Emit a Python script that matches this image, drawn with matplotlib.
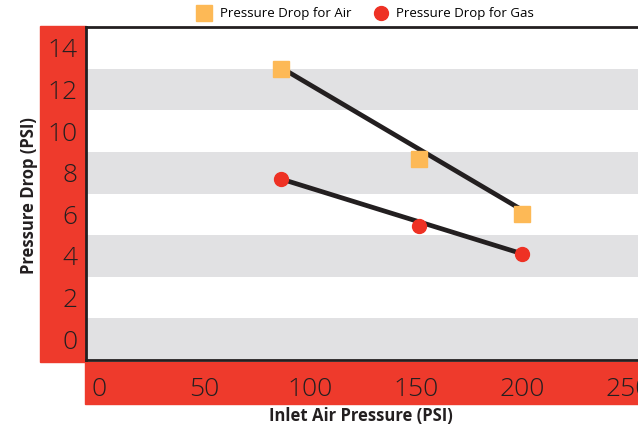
import numpy as np
import matplotlib.pyplot as plt
from matplotlib.patches import Rectangle

plt.rcParams['font.family'] = ['Open Sans', 'DejaVu Sans']

# data
inlet_pressure = [86, 151, 200]
drop_air = [13.0, 8.65, 6.0]
drop_gas = [7.7, 5.45, 4.1]

# straight trend lines (end points)
trend_x = [86, 200]
trend_air = [13.05, 6.2]
trend_gas = [7.7, 4.1]

x_ticks = [0, 50, 100, 150, 200, 250]
y_ticks = [0, 2, 4, 6, 8, 10, 12, 14]

W, H = 638, 428
fig = plt.figure(figsize=(W / 100, H / 100), dpi=100)

# red tick-label strips
red = '#ee3a2c'
fig.add_artist(Rectangle((40 / W, (H - 362) / H), 46 / W, 336 / H,
                         transform=fig.transFigure, color=red, zorder=0))
fig.add_artist(Rectangle((85 / W, (H - 404) / H), 560 / W, 42 / H,
                         transform=fig.transFigure, color=red, zorder=0))

ax = fig.add_axes([86 / W, (H - 360) / H, 572 / W, 333 / H])
ax.set_xlim(-6, 264)
ax.set_ylim(-1, 15)

# alternating grey bands
for lo in [-1, 3, 7, 11]:
    ax.axhspan(lo, lo + 2, color='#e1e1e3', lw=0, zorder=0)

ax.plot(trend_x, trend_air, color='#231f20', lw=3.4, solid_capstyle='butt', zorder=2)
ax.plot(trend_x, trend_gas, color='#231f20', lw=3.4, solid_capstyle='butt', zorder=2)
air, = ax.plot(inlet_pressure, drop_air, ls='none', marker='s', ms=12.2,
               color='#fdb956', label='Pressure Drop for Air', zorder=3)
gas, = ax.plot(inlet_pressure, drop_gas, ls='none', marker='o', ms=10,
               color='#ee3124', label='Pressure Drop for Gas', zorder=3)

ax.set_xticks(x_ticks)
ax.set_yticks(y_ticks)
ax.tick_params(length=0, labelsize=19, labelcolor='#231f20')
ax.tick_params(axis='y', pad=6)
ax.tick_params(axis='x', pad=12)
for lab in ax.get_xticklabels() + ax.get_yticklabels():
    lab.set_fontweight('light')

for s in ['top', 'left', 'bottom']:
    ax.spines[s].set_linewidth(2)
    ax.spines[s].set_color('#231f20')
ax.spines['right'].set_visible(False)

fig.text(29 / W, 1 - 196 / H, 'Pressure Drop (PSI)', rotation=90, ha='center', va='center',
         fontsize=12, fontweight='bold', color='#231f20')
fig.text(361 / W, 1 - 416 / H, 'Inlet Air Pressure (PSI)', ha='center', va='center',
         fontsize=12, fontweight='bold', color='#231f20')

fig.legend(handles=[air, gas], loc='center', bbox_to_anchor=(366 / W, 1 - 14 / H),
           ncol=2, frameon=False, fontsize=9.5, handlelength=1, handletextpad=0.7,
           columnspacing=1.7, markerscale=1.0)

fig.savefig('out.png', dpi=100)
